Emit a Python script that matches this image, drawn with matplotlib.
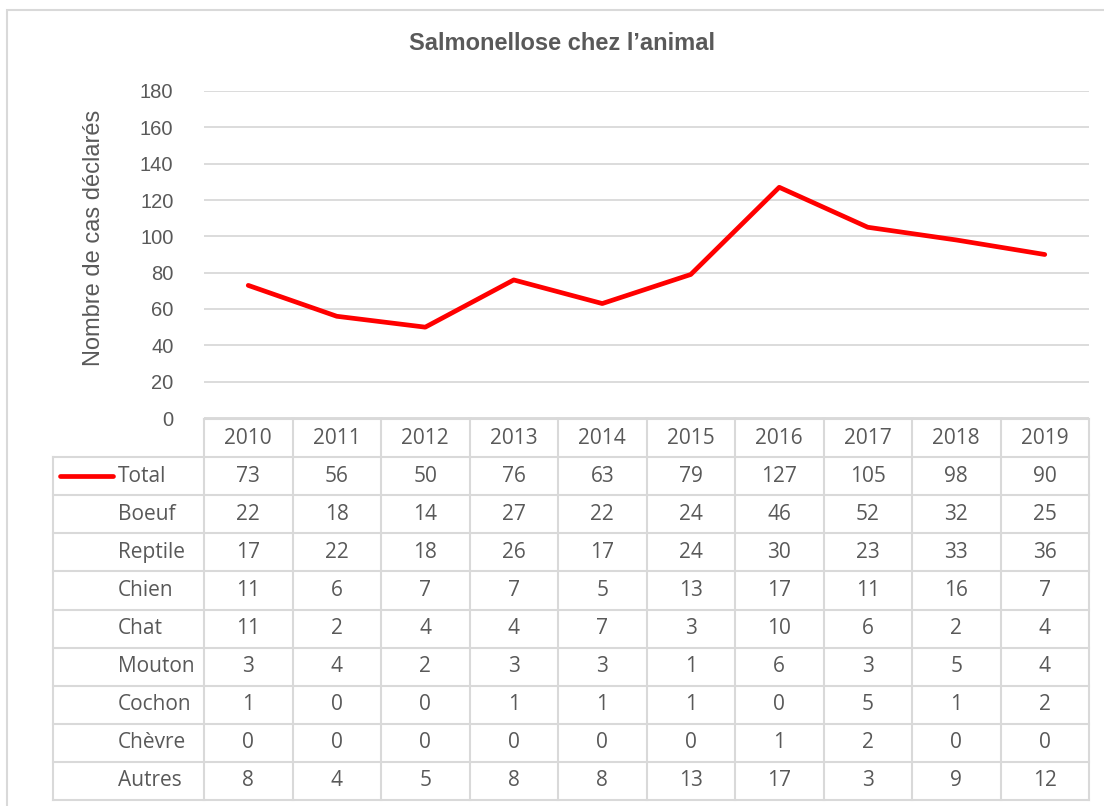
import numpy as np
import matplotlib.pyplot as plt
from matplotlib.patches import Rectangle

# Données
annees = ['2010', '2011', '2012', '2013', '2014', '2015', '2016', '2017', '2018', '2019']
total = [73, 56, 50, 76, 63, 79, 127, 105, 98, 90]
boeuf = [22, 18, 14, 27, 22, 24, 46, 52, 32, 25]
reptile = [17, 22, 18, 26, 17, 24, 30, 23, 33, 36]
chien = [11, 6, 7, 7, 5, 13, 17, 11, 16, 7]
chat = [11, 2, 4, 4, 7, 3, 10, 6, 2, 4]
mouton = [3, 4, 2, 3, 3, 1, 6, 3, 5, 4]
cochon = [1, 0, 0, 1, 1, 1, 0, 5, 1, 2]
chevre = [0, 0, 0, 0, 0, 0, 1, 2, 0, 0]
autres = [8, 4, 5, 8, 8, 13, 17, 3, 9, 12]

noms = ['Total', 'Boeuf', 'Reptile', 'Chien', 'Chat', 'Mouton', 'Cochon', 'Chèvre', 'Autres']
lignes = [total, boeuf, reptile, chien, chat, mouton, cochon, chevre, autres]

W, H = 1104, 806
gris = '#595959'
grille = '#D9D9D9'
rouge = '#FF0000'

fig = plt.figure(figsize=(W/100, H/100), dpi=100)

def px(x0, y0, x1, y1):
    return [x0/W, 1-y1/H, (x1-x0)/W, (y1-y0)/H]

# cadre extérieur (dépasse à droite et en bas)
fig.patches.append(Rectangle((7/W, -0.01), 1.0, 1-10/H+0.01, transform=fig.transFigure,
                             fill=False, edgecolor=grille, lw=1.5))

# graphique
ax = fig.add_axes(px(204, 91, 1089, 418))
x = np.arange(len(annees))
ax.plot(x, total, color=rouge, lw=3.4, solid_joinstyle='round', solid_capstyle='round')
ax.set_xlim(-0.5, len(annees)-0.5)
ax.set_ylim(0, 180)
ax.set_yticks(range(0, 181, 20))
ax.set_xticks([])
for s in ax.spines.values():
    s.set_visible(False)
ax.grid(axis='y', color=grille, lw=1.3)
ax.set_axisbelow(True)
ax.tick_params(axis='y', length=0, pad=22, labelsize=14.5, labelcolor=gris)
for t in ax.get_yticklabels():
    t.set_fontfamily('Liberation Sans')

fig.text(94/W, 1-238/H, 'Nombre de cas déclarés', rotation=90, ha='center', va='center',
         fontsize=17, color=gris, family='Liberation Sans')
fig.text(562/W, 1-44/H, 'Salmonellose chez l\u2019animal', ha='center', va='center',
         fontsize=17, fontweight='bold', color=gris, family='Liberation Sans')

# tableau de données
tx = fig.add_axes(px(53, 419, 1089, 800))
lab_w = (204-53)/88.5
gauche = -0.5 - lab_w
tx.set_xlim(gauche, len(annees)-0.5)
tx.set_ylim(len(noms)+0.5, -0.5)
tx.axis('off')

lw = 1.5
# lignes horizontales
tx.plot([-0.5, len(annees)-0.5], [-0.5, -0.5], color=grille, lw=lw, clip_on=False)
for r in range(len(noms)+1):
    tx.plot([gauche, len(annees)-0.5], [r+0.5, r+0.5], color=grille, lw=lw, clip_on=False)
# lignes verticales
for c in range(len(annees)+1):
    tx.plot([c-0.5, c-0.5], [-0.5, len(noms)+0.5], color=grille, lw=lw, clip_on=False)
tx.plot([gauche, gauche], [0.5, len(noms)+0.5], color=grille, lw=lw, clip_on=False)

police = 'Open Sans'
fs = 15
for c, a in enumerate(annees):
    tx.text(c, 0, a, ha='center', va='center', fontsize=fs, color=gris, family=police)
for r, (nom, vals) in enumerate(zip(noms, lignes), start=1):
    tx.text(gauche + (118-53)/88.5, r, nom, ha='left', va='center', fontsize=fs, color=gris, family=police)
    for c, v in enumerate(vals):
        tx.text(c, r, str(v), ha='center', va='center', fontsize=fs, color=gris, family=police)

# clé de légende
tx.plot([gauche + (60-53)/88.5, gauche + (113-53)/88.5], [1, 1], color=rouge, lw=3.4,
        solid_capstyle='round', clip_on=False)

fig.savefig('out.png', dpi=100)
